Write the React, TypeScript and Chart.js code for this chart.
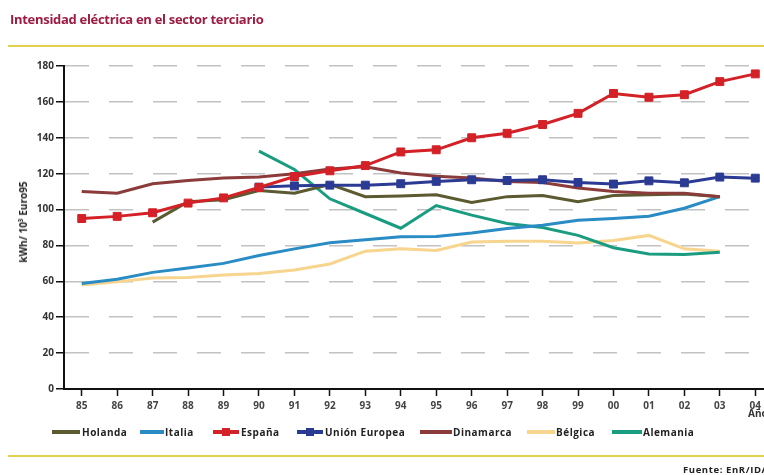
import React, { useEffect, useRef } from "react";
import { Chart, registerables } from "chart.js";

Chart.register(...registerables);

const years = ["85", "86", "87", "88", "89", "90", "91", "92", "93", "94", "95", "96", "97", "98", "99", "00", "01", "02", "03", "04"];

const holanda = [null, null, 93, 104.4, 105.4, 110.6, 109.1, 114, 107.2, 107.6, 108.2, 104, 107.2, 107.8, 104.4, 107.8, 108.2, 108.7, 107.2, null];
const italia = [58.8, 61.2, 65, 67.4, 70, 74.4, 78.1, 81.5, 83.2, 84.8, 85, 86.9, 89.4, 91.3, 94.1, 95, 96.3, 100.7, 107.2, null];
const espana = [95, 96.2, 98.2, 103.6, 106.5, 112.3, 118.4, 121.6, 124.5, 132.1, 133.3, 140, 142.5, 147.4, 153.6, 164.7, 162.6, 164, 171.3, 175.6];
const unionEuropea = [null, null, null, null, null, 112.5, 113.2, 113.6, 113.6, 114.4, 115.7, 116.6, 116.2, 116.6, 115.1, 114.2, 116, 114.9, 118.1, 117.5];
const dinamarca = [110, 109.1, 114.4, 116.2, 117.6, 118.1, 120, 122.6, 123.8, 120.4, 118.5, 117.6, 115.7, 115.1, 112, 110, 109.1, 109.1, 107.2, null];
const belgica = [58, 59.7, 61.8, 62.1, 63.5, 64.4, 66.3, 69.7, 76.8, 78.1, 77.2, 81.9, 82.4, 82.4, 81.3, 82.8, 85.6, 78.1, 76.8, null];
const alemania = [null, null, null, null, null, 132.6, 122.3, 106, 97.8, 89.6, 102.2, 96.9, 92.2, 90, 85.6, 78.7, 75.3, 74.9, 76.2, null];

const yTicks = [0, 20, 40, 60, 80, 100, 120, 140, 160, 180];

const seriesNames = ["Holanda", "Italia", "España", "Unión Europea", "Dinamarca", "Bélgica", "Alemania"];
const seriesValues = [holanda, italia, espana, unionEuropea, dinamarca, belgica, alemania];
const seriesColors = ["#5c5a30", "#2a8cc4", "#d42027", "#2b3a93", "#8b3b3a", "#f7d58e", "#1a9c80"];
const seriesMarkers = [false, false, true, true, false, false, false];
const seriesOrder = [3, 4, 0, 1, 2, 6, 5];

// legend layout: sample start x, sample end x, text x
const legendLayout = [
  [52, 80, 82],
  [140, 164, 165],
  [213, 239, 241],
  [297, 323, 325],
  [420, 452, 453],
  [527, 555, 556],
  [612, 642, 643],
];

const FONT = "'Open Sans', 'DejaVu Sans', sans-serif";

export default function App() {
  const canvasRef = useRef<HTMLCanvasElement | null>(null);

  useEffect(() => {
    if (!canvasRef.current) return;
    const chart = new Chart(canvasRef.current, {
      type: "line",
      data: {
        labels: years,
        datasets: seriesNames.map((name, i) => ({
          label: name,
          data: seriesValues[i] as any,
          borderColor: seriesColors[i],
          backgroundColor: seriesColors[i],
          borderWidth: 3,
          pointRadius: seriesMarkers[i] ? 5.6 : 0,
          pointStyle: "rect",
          pointBorderWidth: 1,
          pointBackgroundColor: seriesColors[i],
          pointBorderColor: seriesColors[i],
          tension: 0,
          fill: false,
          spanGaps: false,
          order: seriesOrder[i],
        })),
      },
      options: {
        animation: false,
        responsive: false,
        maintainAspectRatio: false,
        devicePixelRatio: 1,
        layout: { padding: { left: 0, top: 66, right: 27, bottom: 56 } },
        plugins: {
          legend: { display: false },
          title: { display: false },
          tooltip: { enabled: false },
        },
        scales: {
          x: {
            type: "category",
            offset: true,
            afterFit: (s: any) => {
              s.height = 30;
            },
            grid: {
              offset: false,
              drawOnChartArea: false,
              drawTicks: true,
              tickLength: 7,
              tickColor: "#111",
              tickWidth: 1.5,
            },
            border: { display: true, color: "#111", width: 2 },
            ticks: {
              color: "#444",
              font: { family: FONT, size: 10, weight: "bold" },
              padding: 4,
              autoSkip: false,
              maxRotation: 0,
            },
          },
          y: {
            min: 0,
            max: 180,
            afterFit: (s: any) => {
              s.width = 64;
            },
            afterBuildTicks: (s: any) => {
              s.ticks = yTicks.map((v) => ({ value: v }));
            },
            grid: {
              color: "#c2c2c2",
              lineWidth: 1.5,
              drawTicks: true,
              tickLength: 8,
              tickColor: "#111",
              tickWidth: 1.5,
            },
            border: { display: true, color: "#111", width: 2, dash: [24, 20] },
            ticks: {
              color: "#333",
              font: { family: FONT, size: 10, weight: "bold" },
              padding: 2,
            },
          },
        },
      } as any,
    });
    return () => chart.destroy();
  }, []);

  return (
    <div
      style={{
        position: "fixed",
        left: 0,
        top: 0,
        width: 764,
        height: 475,
        overflow: "hidden",
        background: "#fff",
        fontFamily: FONT,
      }}
    >
      <canvas
        ref={canvasRef}
        width={800}
        height={475}
        style={{ position: "absolute", left: 0, top: 0, width: 800, height: 475 }}
      />
      <div
        style={{
          position: "absolute",
          left: 10,
          top: 10,
          fontSize: 13,
          fontWeight: 700,
          color: "#9e1c42",
          whiteSpace: "nowrap",
          letterSpacing: -0.3,
        }}
      >
        Intensidad eléctrica en el sector terciario
      </div>
      <div style={{ position: "absolute", left: 8, top: 45, width: 760, height: 2, background: "#e3d04e" }} />
      <div
        style={{
          position: "absolute",
          left: 23,
          top: 222,
          transform: "translate(-50%, -50%) rotate(-90deg)",
          fontSize: 10,
          fontWeight: 700,
          color: "#222",
          whiteSpace: "nowrap",
        }}
      >
        kWh/ 10³ Euro95
      </div>
      <div
        style={{
          position: "absolute",
          left: 748,
          top: 406,
          fontSize: 10,
          fontWeight: 700,
          color: "#333",
          whiteSpace: "nowrap",
        }}
      >
        Años
      </div>
      {seriesNames.map((name, i) => {
        const [sx, ex, tx] = legendLayout[i];
        return (
          <React.Fragment key={name}>
            <div
              style={{
                position: "absolute",
                left: sx,
                top: 430,
                width: ex - sx,
                height: 4,
                background: seriesColors[i],
              }}
            />
            {seriesMarkers[i] && (
              <div
                style={{
                  position: "absolute",
                  left: (sx + ex) / 2 - 4,
                  top: 428,
                  width: 8,
                  height: 8,
                  background: seriesColors[i],
                }}
              />
            )}
            <div
              style={{
                position: "absolute",
                left: tx,
                top: 425,
                lineHeight: "14px",
                fontSize: 10,
                fontWeight: 700,
                letterSpacing: 0.5,
                color: "#222",
                whiteSpace: "nowrap",
              }}
            >
              {name}
            </div>
          </React.Fragment>
        );
      })}
      <div style={{ position: "absolute", left: 8, top: 455, width: 760, height: 2, background: "#e3d04e" }} />
      <div
        style={{
          position: "absolute",
          left: 683,
          top: 464,
          fontSize: 9.5,
          lineHeight: "12px",
          fontWeight: 700,
          letterSpacing: 0.6,
          color: "#222",
          whiteSpace: "nowrap",
        }}
      >
        Fuente: EnR/IDAE
      </div>
    </div>
  );
}
